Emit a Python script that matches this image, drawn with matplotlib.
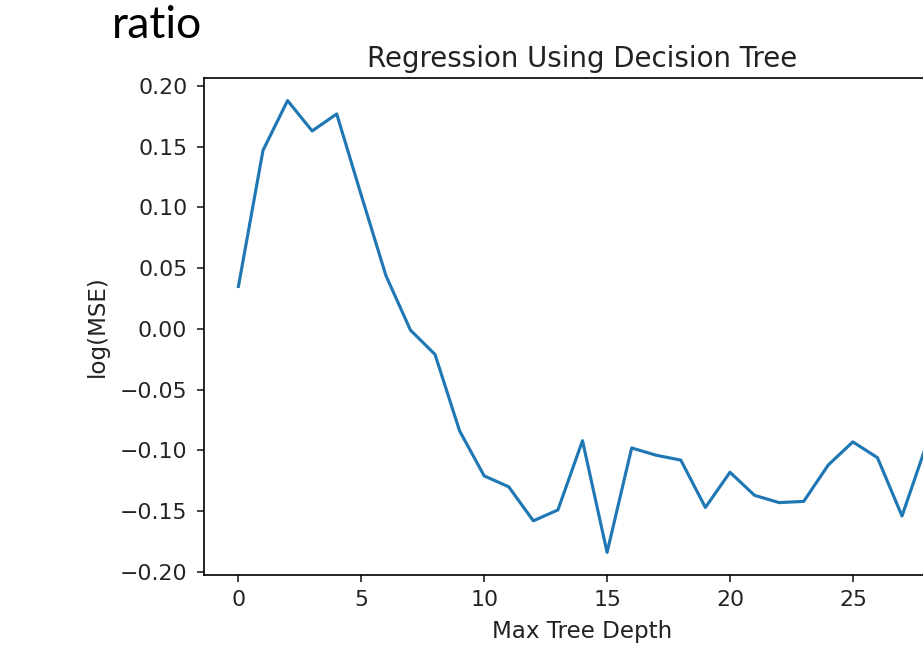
import numpy as np
import matplotlib.pyplot as plt

# values (depth 0..28)
depth = np.arange(29)
log_mse = [0.035, 0.147, 0.188, 0.163, 0.177, 0.110, 0.044, -0.001, -0.021,
           -0.084, -0.121, -0.130, -0.158, -0.149, -0.092, -0.184, -0.098,
           -0.104, -0.108, -0.147, -0.118, -0.137, -0.143, -0.142, -0.112,
           -0.093, -0.106, -0.154, -0.095]
yticks = [-0.20, -0.15, -0.10, -0.05, 0.00, 0.05, 0.10, 0.15, 0.20]
xticks = [0, 5, 10, 15, 20, 25]

title = 'Regression Using Decision Tree'
xlabel = 'Max Tree Depth'
ylabel = 'log(MSE)'
slide_word = 'ratio'

s = 1.505  # scale of the pasted notebook figure
plt.rcParams.update({
    'font.family': 'DejaVu Sans',
    'font.size': 10.5 * s,
    'text.color': '#222222',
    'axes.labelcolor': '#222222',
    'xtick.color': '#222222',
    'ytick.color': '#222222',
    'axes.linewidth': 0.8 * s,
    'xtick.major.size': 3.5 * s,
    'ytick.major.size': 3.5 * s,
    'xtick.major.width': 0.8 * s,
    'ytick.major.width': 0.8 * s,
    'xtick.major.pad': 3.5 * s,
    'ytick.major.pad': 4.5 * s,
    'axes.labelpad': 5.0 * s,
    'axes.titlepad': 5.5 * s,
})

W, H = 923, 646
fig = plt.figure(figsize=(W / 100, H / 100), dpi=100)
# axes runs past the right edge: the screenshot was cropped
left, right, top, bottom = 204, 961, 78, 575
ax = fig.add_axes([left / W, 1 - bottom / H, (right - left) / W, (bottom - top) / H])

ax.plot(depth, log_mse, color='#1f77b4', linewidth=1.5 * s)
ax.set_xticks(xticks)
ax.set_yticks(yticks)
ax.set_yticklabels([f'{v:.2f}'.replace('-', '\u2212') for v in yticks])
ax.set_title(title, fontsize=13.2 * s)
ax.set_xlabel(xlabel, fontsize=11 * s)
ax.set_ylabel(ylabel, fontsize=11 * s)

fig.text(112 / W, 1 - 38 / H, slide_word, family='Lato', fontsize=32,
         color='black', va='baseline')

fig.savefig('out.png', dpi=100)
